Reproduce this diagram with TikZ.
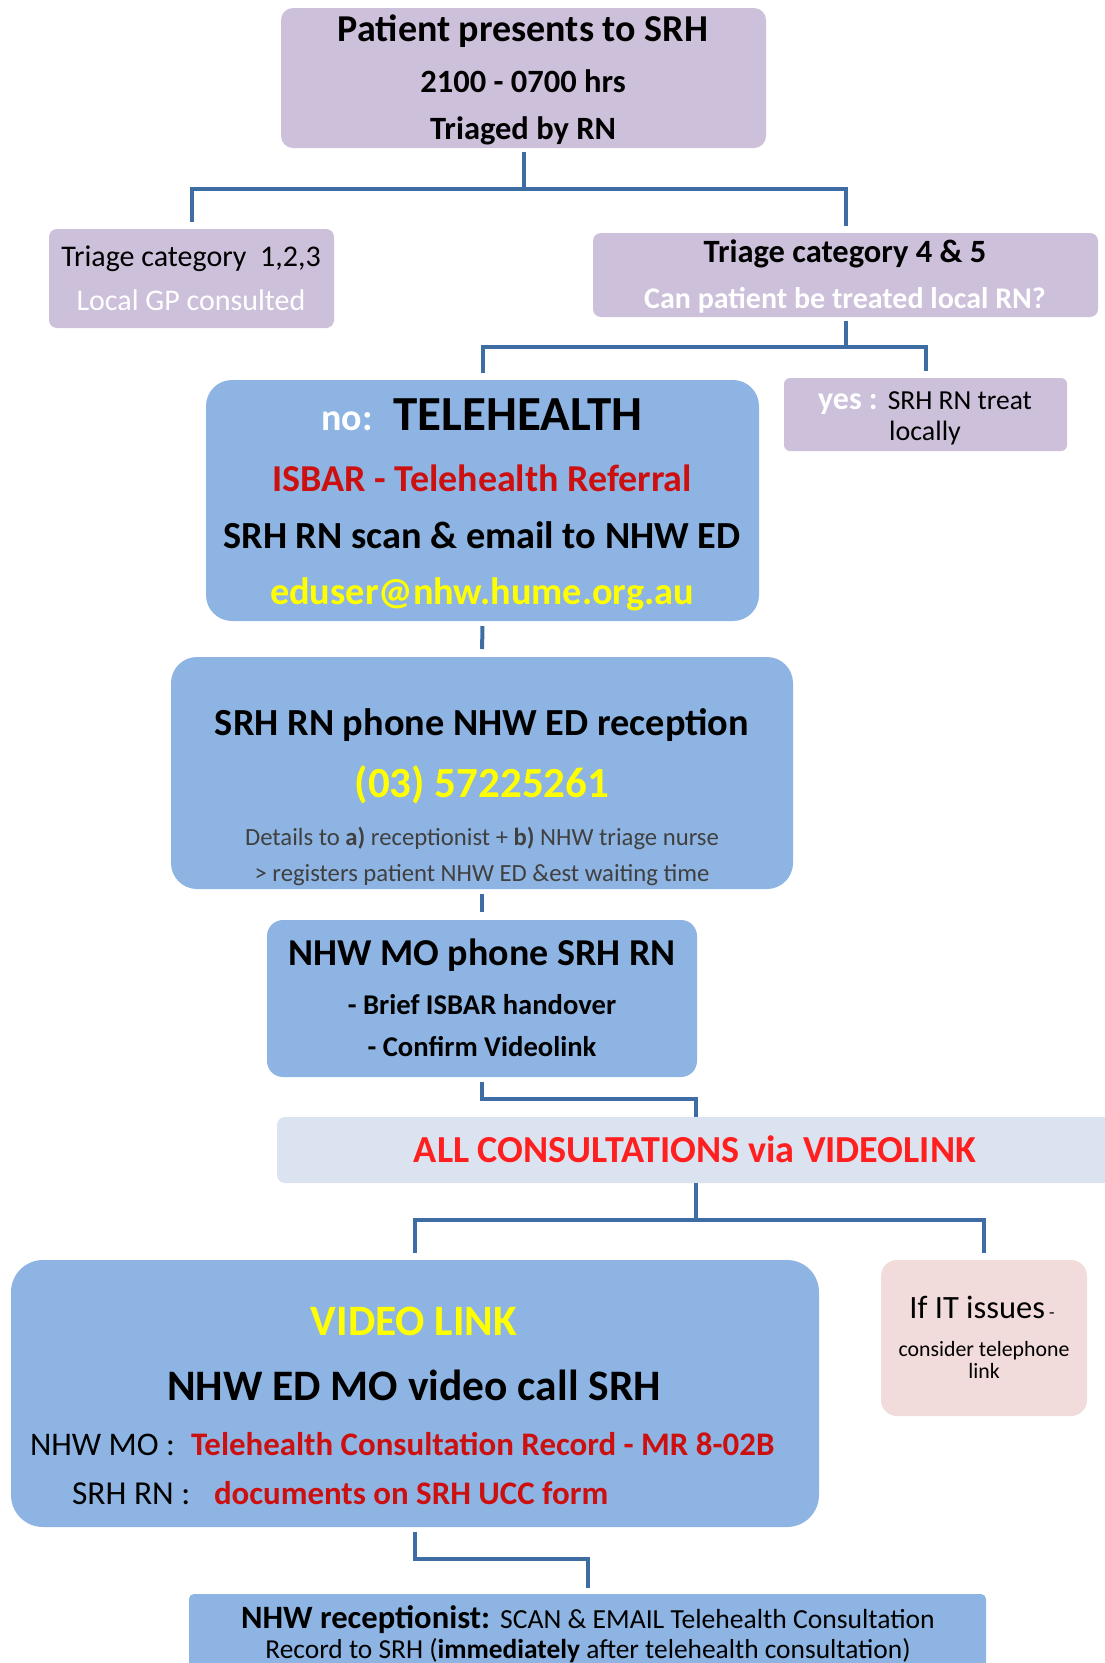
\documentclass[tikz,border=0pt]{standalone}
\usepackage{fontspec}
\setmainfont{Carlito}
\definecolor{lav}{HTML}{CCC0DA}
\definecolor{bluebox}{HTML}{8DB4E2}
\definecolor{linecol}{HTML}{3E6DA3}
\definecolor{consbg}{HTML}{DCE3F0}
\definecolor{pinkbg}{HTML}{F2DCDB}
\definecolor{dred}{HTML}{CC1010}
\definecolor{bred}{HTML}{FF1F1F}
\definecolor{yel}{HTML}{FFFF00}
\definecolor{gtext}{HTML}{404040}
\newcommand\myfs[1]{\fontsize{#1}{#1}\selectfont}
\begin{document}
\begin{tikzpicture}[x=1pt,y=-1pt,
  boxbase/.style={inner sep=0pt, outer sep=0pt},
  lavbox/.style={boxbase, fill=lav},
  bluebx/.style={boxbase, fill=bluebox},
  tx/.style={inner sep=0pt, outer sep=0pt, anchor=base},
  txw/.style={inner sep=0pt, outer sep=0pt, anchor=base west},
  cline/.style={draw=linecol, line width=4pt, shorten <=4pt, shorten >=7pt}]
\useasboundingbox (0,0) rectangle (1105,1663);
\clip (0,0) rectangle (1105,1663);

% ---------- boxes ----------
\node[lavbox, rounded corners=12pt, minimum width=485pt, minimum height=140pt] (top) at (523.5,78) {};
\node[lavbox, rounded corners=8pt, minimum width=285pt, minimum height=99pt] (left) at (191.5,278.5) {};
\node[lavbox, rounded corners=8pt, minimum width=505pt, minimum height=84pt] (right) at (845.5,275) {};
\node[bluebx, rounded corners=26pt, minimum width=553pt, minimum height=241pt] (tele) at (482.5,500.5) {};
\node[lavbox, rounded corners=6pt, minimum width=283pt, minimum height=73pt] (yes) at (925.5,414.5) {};
\node[bluebx, rounded corners=26pt, minimum width=622pt, minimum height=232pt] (phone) at (482,773) {};
\node[bluebx, rounded corners=16pt, minimum width=430pt, minimum height=157pt] (mo) at (482,998.5) {};
\node[boxbase, fill=consbg, rounded corners=8pt, minimum width=838pt, minimum height=66pt] (cons) at (696,1150) {};
\node[bluebx, rounded corners=32pt, minimum width=808pt, minimum height=267pt] (video) at (415,1393.5) {};
\node[boxbase, fill=pinkbg, rounded corners=16pt, minimum width=206pt, minimum height=156pt] (it) at (984,1338) {};
\node[bluebx, rounded corners=5pt, minimum width=797pt, minimum height=120pt] (recep) at (587.5,1654) {};

% ---------- connectors ----------
\draw[cline] (top.south) -- ++(0,41) -| (left.north);
\draw[cline] (top.south) -- ++(0,41) -| (right.north);
\draw[cline] (right.south) -- ++(0,30) -| (tele.north);
\draw[cline] (right.south) -- ++(0,30) -| (yes.north);
\draw[cline, shorten <=5pt, shorten >=8pt] (tele.south) -- (phone.north);
\draw[cline, shorten <=5pt, shorten >=8pt] (phone.south) -- (mo.north);
\draw[cline, shorten <=5pt, shorten >=0pt] (mo.south) -- ++(0,22) -| (cons.north);
\draw[cline, shorten <=0pt] (cons.south) -- ++(0,37) -| (video.north);
\draw[cline, shorten <=0pt] (cons.south) -- ++(0,37) -| (it.north);
\draw[cline, shorten <=5pt, shorten >=6pt] (video.south) -- ++(0,32) -| (recep.north);

% ---------- texts ----------
\node[tx] (t1) at (523,41) {\myfs{38}\bfseries Patient presents to SRH};
\node[tx] (t2) at (523,92) {\myfs{32.5}\bfseries 2100 - 0700 hrs};
\node[tx] (t3) at (523,139.5) {\myfs{32.5}\bfseries Triaged by RN};

\node[tx] (l1) at (191,266) {\myfs{30}Triage category\ \ 1,2,3};
\node[tx, text=white] (l2) at (191,310) {\myfs{30}Local GP consulted};

\node[tx] (r1) at (845,262) {\myfs{32.5}\bfseries Triage category 4 \& 5};
\node[tx, text=white] (r2) at (845,308) {\myfs{30}\bfseries Can patient be treated local RN?};

\node[tx] (te1) at (482,430) {{\myfs{38}\bfseries\color{white}no:}\hspace{21pt}{\myfs{49}\bfseries TELEHEALTH}};
\node[tx, text=dred] (te2) at (482,491) {\myfs{38}\bfseries ISBAR - Telehealth Referral};
\node[tx] (te3) at (482,548) {\myfs{38.3}\bfseries SRH RN scan \& email to NHW ED};
\node[tx, text=yel] (te4) at (482,604) {\myfs{38.3}\bfseries eduser@nhw.hume.org.au};

\node[tx] (y1) at (925,409) {{\myfs{32}\bfseries\color{white}yes :}\hspace{10pt}{\myfs{27.5}SRH RN treat}};
\node[tx] (y2) at (925,440) {\myfs{28}locally};

\node[tx] (p1) at (482,735) {\myfs{38.3}\bfseries SRH RN phone NHW ED reception};
\node[tx, text=yel] (p2) at (482,797) {\myfs{43}\bfseries (03) 57225261};
\node[tx, text=gtext] (p3) at (482,845) {\myfs{24.7}Details to \textbf{a)} receptionist + \textbf{b)} NHW triage nurse};
\node[tx, text=gtext] (p4) at (482,881) {\myfs{24.7}> registers patient NHW ED \&est waiting time};

\node[tx] (m1) at (482,965) {\myfs{38}\bfseries NHW MO phone SRH RN};
\node[tx] (m2) at (482,1014) {\myfs{28.6}\bfseries - Brief ISBAR handover};
\node[tx] (m3) at (482,1056) {\myfs{28.6}\bfseries - Confirm Videolink};

\node[tx, text=bred] (c1) at (695,1162) {\myfs{38.2}\bfseries ALL CONSULTATIONS via VIDEOLINK};

\node[tx, text=yel] (v1) at (414,1335) {\myfs{43.4}\bfseries VIDEO LINK};
\node[tx] (v2) at (414,1400) {\myfs{43.5}\bfseries NHW ED MO video call SRH};
\node[txw] (v3) at (30,1455) {\myfs{33}NHW MO :};
\node[txw, text=dred] (v3r) at (191,1455) {\myfs{32.9}\bfseries Telehealth Consultation Record - MR 8-02B};
\node[txw] (v4) at (72,1504) {\myfs{33.5}SRH RN :};
\node[txw, text=dred] (v4r) at (214,1504) {\myfs{32.9}\bfseries documents on SRH UCC form};

\node[tx] (i1) at (982,1318) {{\myfs{32.5}If IT issues}{\myfs{18}\ -}};
\node[tx] (i2) at (984,1356) {\myfs{21.8}consider telephone};
\node[tx] (i3) at (984,1378) {\myfs{21.8}link};

\node[tx] (rc1) at (588,1628) {{\myfs{32.6}\bfseries NHW receptionist:}\hspace{10pt}{\myfs{27.6}SCAN \& EMAIL Telehealth Consultation}};
\node[tx] (rc2) at (588,1658) {\myfs{27.4}Record to SRH (\textbf{immediately} after telehealth consultation)};
\end{tikzpicture}
\end{document}
